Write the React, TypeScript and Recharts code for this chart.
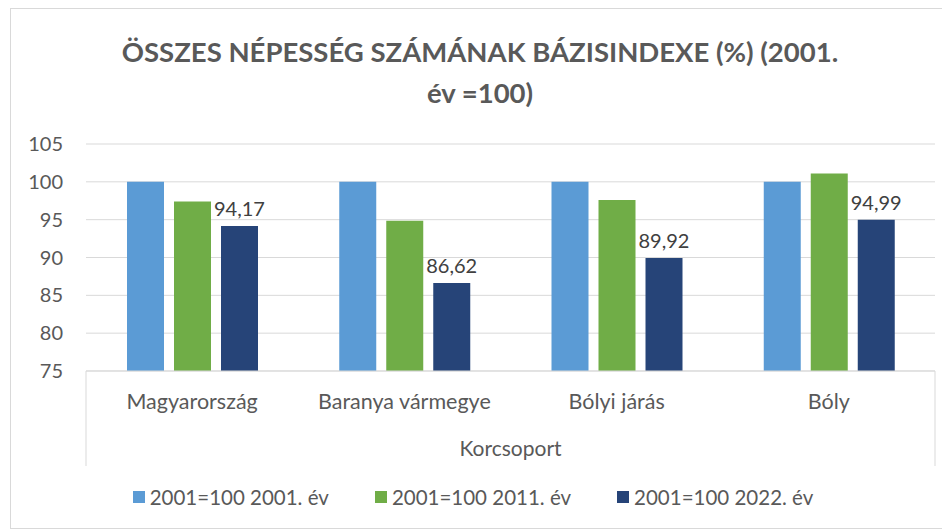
import { BarChart, Bar, XAxis, YAxis, CartesianGrid, Legend, LabelList } from 'recharts'

const categories = ['Magyarország', 'Baranya vármegye', 'Bólyi járás', 'Bóly']
const year2001 = [100, 100, 100, 100]
const year2011 = [97.4, 94.85, 97.6, 101.1]
const year2022 = [94.17, 86.62, 89.92, 94.99]
const yTicks = [75, 80, 85, 90, 95, 100, 105]

const seriesNames = ['2001=100 2001. év', '2001=100 2011. év', '2001=100 2022. év']
const colors = ['#5b9bd5', '#70ad47', '#264478']

const data = categories.map((name, i) => ({
  name,
  a: year2001[i],
  b: year2011[i],
  c: year2022[i],
}))

const FONT = 'Lato, "Noto Sans", sans-serif'
const TEXT = '#595959'

function AxisBox(props: any) {
  const vb = props.viewBox
  if (!vb) return null
  const bottom = vb.y + 95
  return (
    <g>
      <line x1={vb.x} y1={vb.y} x2={vb.x} y2={bottom} stroke="#d9d9d9" />
      <line x1={vb.x + vb.width} y1={vb.y} x2={vb.x + vb.width} y2={bottom} stroke="#d9d9d9" />
      <text
        x={vb.x + vb.width / 2}
        y={vb.y + 76}
        textAnchor="middle"
        dominantBaseline="central"
        fontSize={21}
        fill={TEXT}
        fontFamily={FONT}
      >
        Korcsoport
      </text>
    </g>
  )
}

function LegendBox() {
  return (
    <div style={{ display: 'flex', justifyContent: 'center', height: 30, alignItems: 'center', fontFamily: FONT }}>
      {seriesNames.map((n, i) => (
        <div key={n} style={{ display: 'flex', alignItems: 'center', marginRight: i < 2 ? 46 : 0 }}>
          <span style={{ width: 12, height: 12, background: colors[i], marginRight: 5, display: 'inline-block' }} />
          <span style={{ fontSize: 20.5, color: TEXT }}>{n}</span>
        </div>
      ))}
    </div>
  )
}

export default function App() {
  return (
    <div
      style={{
        position: 'relative',
        marginLeft: 2,
        width: 940,
        height: 521,
        border: '1px solid #d9d9d9',
        boxSizing: 'border-box',
        background: '#fff',
      }}
    >
      <div
        style={{
          position: 'absolute',
          top: 22,
          left: 0,
          width: 938,
          textAlign: 'center',
          fontFamily: FONT,
          fontWeight: 700,
          fontSize: 27.5,
          lineHeight: '41px',
          color: TEXT,
          zIndex: 1,
        }}
      >
        ÖSSZES NÉPESSÉG SZÁMÁNAK BÁZISINDEXE (%) (2001.
        <br />
        év =100)
      </div>
      <BarChart
        width={938}
        height={519}
        data={data}
        margin={{ top: 135, right: 14, bottom: 32, left: 0 }}
        barSize={37}
        barGap={10}
      >
        <CartesianGrid vertical={false} stroke="#d9d9d9" />
        <YAxis
          domain={[75, 105]}
          ticks={yTicks}
          width={75}
          axisLine={false}
          tickLine={false}
          tickSize={0}
          tickMargin={23}
          tick={{ fontSize: 20, fill: TEXT, fontFamily: FONT }}
          allowDataOverflow
        />
        <XAxis
          dataKey="name"
          height={95}
          axisLine={{ stroke: '#d9d9d9' }}
          tickLine={false}
          tickSize={0}
          tickMargin={23}
          tick={{ fontSize: 21.5, fill: TEXT, fontFamily: FONT }}
          label={{ content: AxisBox }}
        />
        <Legend content={LegendBox} verticalAlign="bottom" wrapperStyle={{ bottom: 16 }} />
        <Bar dataKey="a" name={seriesNames[0]} fill={colors[0]} isAnimationActive={false} />
        <Bar dataKey="b" name={seriesNames[1]} fill={colors[1]} isAnimationActive={false} />
        <Bar dataKey="c" name={seriesNames[2]} fill={colors[2]} isAnimationActive={false}>
          <LabelList
            dataKey="c"
            position="top"
            offset={10}
            fontSize={20}
            fill="#404040"
            fontFamily={FONT}
            formatter={(v: any) => String(v).replace('.', ',')}
          />
        </Bar>
      </BarChart>
    </div>
  )
}
